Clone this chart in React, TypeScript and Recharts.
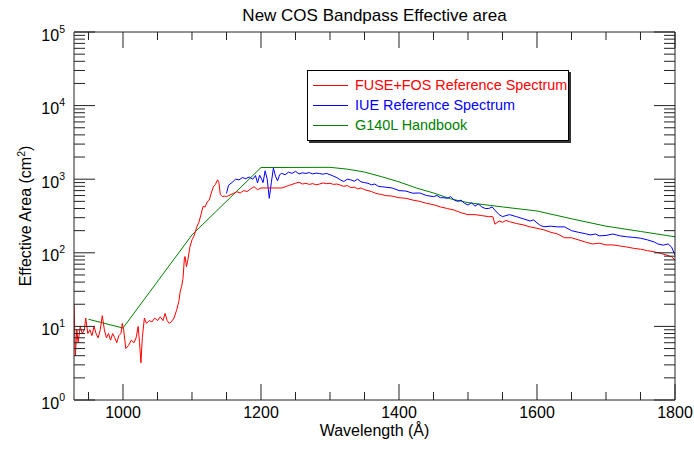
import { LineChart, Line, XAxis, YAxis, Legend } from "recharts";

// wavelength (Å), effective area (cm^2)
const fuseFos: [number, number][] = [
  [929, 20], [931, 4], [933, 9], [935, 6], [938, 10], [941, 8], [944, 9], [946, 13],
  [949, 8], [952, 9], [955, 7.5], [958, 10], [961, 8], [964, 7], [967, 9], [970, 14],
  [973, 9], [976, 7], [979, 8], [982, 6.5], [985, 8], [988, 7], [991, 6], [994, 7.5],
  [997, 8], [999, 11], [1001, 9], [1004, 5], [1008, 5.5], [1012, 6.5], [1016, 6],
  [1019, 7], [1022, 10], [1024, 6], [1026, 3.2], [1028, 7], [1031, 13], [1034, 11],
  [1038, 12], [1042, 11.5], [1046, 13], [1050, 12], [1054, 13.5], [1058, 12], [1061, 15],
  [1064, 12], [1067, 11], [1070, 11.5], [1074, 13], [1078, 17], [1081, 22], [1083, 30],
  [1085, 35], [1087, 45], [1089, 85], [1090, 89], [1092, 65], [1094, 80], [1097, 120],
  [1100, 150], [1103, 170], [1107, 225], [1110, 260], [1113, 330], [1116, 425], [1119, 420],
  [1122, 490], [1125, 520], [1128, 650], [1131, 790], [1134, 850], [1137, 980], [1139, 900],
  [1141, 620], [1144, 580], [1147, 590], [1150, 580], [1155, 610], [1160, 640], [1165, 675],
  [1170, 650], [1175, 700], [1180, 680], [1185, 740], [1190, 790], [1195, 720], [1200, 760],
  [1230, 760], [1235, 790], [1240, 820], [1245, 850], [1250, 880], [1255, 910], [1260, 860],
  [1265, 880], [1270, 850], [1275, 870], [1280, 840], [1285, 860], [1290, 890], [1295, 870],
  [1300, 880], [1305, 850], [1310, 860], [1315, 830], [1320, 800], [1325, 820], [1330, 770],
  [1335, 780], [1340, 740], [1345, 760], [1350, 720], [1355, 700], [1360, 680], [1365, 650],
  [1370, 630], [1375, 620], [1380, 600], [1390, 590], [1400, 560], [1410, 550], [1420, 520],
  [1430, 500], [1440, 470], [1450, 450], [1460, 420], [1470, 400], [1480, 380], [1490, 350],
  [1500, 330], [1510, 330], [1520, 320], [1530, 310], [1536, 310], [1539, 245], [1545, 270],
  [1550, 260], [1555, 275], [1560, 265], [1570, 250], [1580, 240], [1590, 225], [1600, 215],
  [1610, 205], [1620, 190], [1630, 180], [1640, 160], [1650, 160], [1660, 150], [1670, 140],
  [1680, 132], [1690, 135], [1700, 128], [1710, 128], [1720, 124], [1730, 120], [1740, 115],
  [1750, 112], [1760, 107], [1770, 103], [1780, 98], [1788, 93], [1795, 88], [1800, 80],
];

const iue: [number, number][] = [
  [1150, 640], [1153, 830], [1158, 900], [1163, 1000], [1168, 980], [1173, 1050], [1178, 1020],
  [1183, 1070], [1188, 1000], [1192, 1120], [1195, 890], [1198, 1130], [1201, 1000], [1203, 900],
  [1206, 1300], [1209, 1000], [1212, 550], [1215, 900], [1218, 1420], [1221, 1100], [1224, 950],
  [1227, 1150], [1230, 1200], [1235, 1150], [1240, 1250], [1245, 1200], [1250, 1280], [1255, 1180],
  [1260, 1220], [1265, 1200], [1270, 1230], [1275, 1180], [1280, 1210], [1285, 1190], [1290, 1170],
  [1295, 1200], [1300, 1150], [1305, 1100], [1310, 1050], [1315, 980], [1320, 930], [1325, 1000],
  [1330, 980], [1335, 940], [1340, 1000], [1345, 920], [1350, 900], [1355, 880], [1360, 840],
  [1365, 860], [1370, 800], [1375, 790], [1380, 780], [1390, 760], [1400, 700], [1410, 690],
  [1420, 645], [1430, 650], [1440, 600], [1450, 580], [1455, 600], [1460, 560], [1465, 560],
  [1470, 550], [1475, 580], [1480, 520], [1485, 500], [1490, 520], [1495, 470], [1500, 445],
  [1505, 480], [1510, 430], [1515, 460], [1520, 420], [1525, 400], [1530, 400], [1535, 420],
  [1540, 370], [1545, 330], [1550, 310], [1555, 320], [1560, 330], [1570, 310], [1580, 290],
  [1590, 270], [1595, 280], [1600, 255], [1605, 235], [1610, 226], [1620, 230], [1630, 225],
  [1640, 225], [1650, 200], [1660, 190], [1670, 182], [1677, 175], [1685, 180], [1690, 170],
  [1700, 172], [1710, 180], [1715, 175], [1720, 170], [1730, 165], [1740, 162], [1750, 158],
  [1760, 150], [1770, 140], [1775, 132], [1783, 127], [1790, 132], [1795, 120], [1800, 93],
];

const handbook: [number, number][] = [
  [950, 12.5], [1000, 9.5], [1100, 175], [1200, 1440], [1300, 1450], [1325, 1370],
  [1350, 1250], [1375, 1080], [1400, 920], [1425, 760], [1450, 650], [1475, 540],
  [1500, 480], [1550, 420], [1600, 370], [1650, 290], [1700, 230], [1750, 195], [1800, 165],
];

const waveTicks = [950, 1000, 1050, 1100, 1150, 1200, 1250, 1300, 1350, 1400, 1450, 1500,
  1550, 1600, 1650, 1700, 1750, 1800];
const waveLabels = [1000, 1200, 1400, 1600, 1800];
const decades = [1, 10, 100, 1000, 10000, 100000];
const areaTicks = [
  ...decades.slice(0, 5).flatMap((d) => [1, 2, 3, 4, 5, 6, 7, 8, 9].map((m) => m * d)),
  100000,
];

const legendItems = [
  { name: "FUSE+FOS Reference Spectrum", color: "#ff0000" },
  { name: "IUE Reference Spectrum", color: "#0000ff" },
  { name: "G140L Handbook", color: "#008000" },
];

const toRows = (pts: [number, number][]) => pts.map(([w, a]) => ({ w, a }));

const AXIS = "#222";

const BottomTick = ({ x, y, payload }: any) => {
  const major = waveLabels.includes(payload.value);
  return (
    <g>
      <line x1={x} x2={x} y1={y} y2={y - (major ? 16 : 8)} stroke={AXIS} />
      {major && (
        <text x={x} y={y + 18} textAnchor="middle" fontSize={16} fill="#000">
          {payload.value}
        </text>
      )}
    </g>
  );
};

const TopTick = ({ x, y, payload }: any) => {
  const major = waveLabels.includes(payload.value);
  return <line x1={x} x2={x} y1={y} y2={y + (major ? 16 : 8)} stroke={AXIS} />;
};

// IDL-style log labels: "10" sits just under the tick, exponent level with it
const LeftTick = ({ x, y, payload }: any) => {
  const i = decades.indexOf(payload.value);
  return (
    <g>
      <line x1={x} x2={x + (i >= 0 ? 21 : 11)} y1={y} y2={y} stroke={AXIS} />
      {i >= 0 && (
        <text x={x - 9} y={y + 8.5} textAnchor="end" fontSize={16} fill="#000">
          10<tspan dy={-8} fontSize={10.5}>{i}</tspan>
        </text>
      )}
    </g>
  );
};

const RightTick = ({ x, y, payload }: any) => {
  const major = decades.includes(payload.value);
  return <line x1={x} x2={x - (major ? 21 : 11)} y1={y} y2={y} stroke={AXIS} />;
};

const YTitle = ({ viewBox }: any) => {
  const cx = viewBox.x - 42;
  const cy = viewBox.y + viewBox.height / 2;
  return (
    <text x={cx} y={cy} transform={`rotate(-90 ${cx} ${cy})`} textAnchor="middle" fontSize={16} fill="#000">
      Effective Area (cm<tspan dy={-6} fontSize={10.5}>2</tspan><tspan dy={6}>)</tspan>
    </text>
  );
};

const LegendBox = () => (
  <div
    style={{
      border: "1px solid #000",
      background: "#fff",
      boxShadow: "2px 2px 0 #333",
      padding: "4px 0 5px 5px",
      width: 262,
      boxSizing: "border-box",
    }}
  >
    {legendItems.map((it) => (
      <div key={it.name} style={{ display: "flex", alignItems: "center", height: 20 }}>
        <svg width={35} height={20} style={{ flex: "none", marginRight: 7 }}>
          <line x1={0} x2={35} y1={10.5} y2={10.5} stroke={it.color} strokeWidth={1} />
        </svg>
        <span style={{ color: it.color, fontSize: 14.4, whiteSpace: "nowrap" }}>{it.name}</span>
      </div>
    ))}
  </div>
);

export default function App() {
  return (
    <div
      style={{
        position: "absolute",
        left: 0,
        top: 0,
        width: 694,
        height: 449,
        background: "#fff",
        fontFamily: "'Liberation Sans', Arial, Helvetica, sans-serif",
      }}
    >
      <LineChart width={694} height={449} margin={{ top: 31, right: 18, bottom: 48, left: 73 }}>
        <XAxis
          xAxisId="bottom"
          dataKey="w"
          type="number"
          domain={[929, 1800]}
          allowDataOverflow
          ticks={waveTicks}
          interval={0}
          height={1}
          tickSize={0}
          tickMargin={0}
          tickLine={false}
          tick={<BottomTick />}
          axisLine={{ stroke: AXIS }}
          label={{ value: "Wavelength (Å)", position: "bottom", offset: 24, fontSize: 16, fill: "#000" }}
        />
        <XAxis
          xAxisId="top"
          orientation="top"
          dataKey="w"
          type="number"
          domain={[929, 1800]}
          allowDataOverflow
          ticks={waveTicks}
          interval={0}
          height={1}
          tickSize={0}
          tickMargin={0}
          tickLine={false}
          tick={<TopTick />}
          axisLine={{ stroke: AXIS }}
          label={{ value: "New COS Bandpass Effective area", position: "top", offset: 10, fontSize: 17, fill: "#000" }}
        />
        <YAxis
          yAxisId="left"
          type="number"
          scale="log"
          domain={[1, 100000]}
          allowDataOverflow
          ticks={areaTicks}
          interval={0}
          width={1}
          tickSize={0}
          tickMargin={0}
          tickLine={false}
          tick={<LeftTick />}
          axisLine={{ stroke: AXIS }}
          label={<YTitle />}
        />
        <YAxis
          yAxisId="right"
          orientation="right"
          type="number"
          scale="log"
          domain={[1, 100000]}
          allowDataOverflow
          ticks={areaTicks}
          interval={0}
          width={1}
          tickSize={0}
          tickMargin={0}
          tickLine={false}
          tick={<RightTick />}
          axisLine={{ stroke: AXIS }}
        />
        <Legend
          layout="vertical"
          align="center"
          verticalAlign="middle"
          wrapperStyle={{ left: 307, top: 70, width: "auto" }}
          content={<LegendBox />}
        />
        <Line
          xAxisId="bottom"
          yAxisId="left"
          data={toRows(handbook)}
          dataKey="a"
          name="G140L Handbook"
          stroke="#008000"
          strokeWidth={1}
          dot={false}
          isAnimationActive={false}
        />
        <Line
          xAxisId="bottom"
          yAxisId="left"
          data={toRows(iue)}
          dataKey="a"
          name="IUE Reference Spectrum"
          stroke="#0000ff"
          strokeWidth={1}
          dot={false}
          isAnimationActive={false}
        />
        <Line
          xAxisId="bottom"
          yAxisId="left"
          data={toRows(fuseFos)}
          dataKey="a"
          name="FUSE+FOS Reference Spectrum"
          stroke="#ff0000"
          strokeWidth={1}
          dot={false}
          isAnimationActive={false}
        />
      </LineChart>
    </div>
  );
}
